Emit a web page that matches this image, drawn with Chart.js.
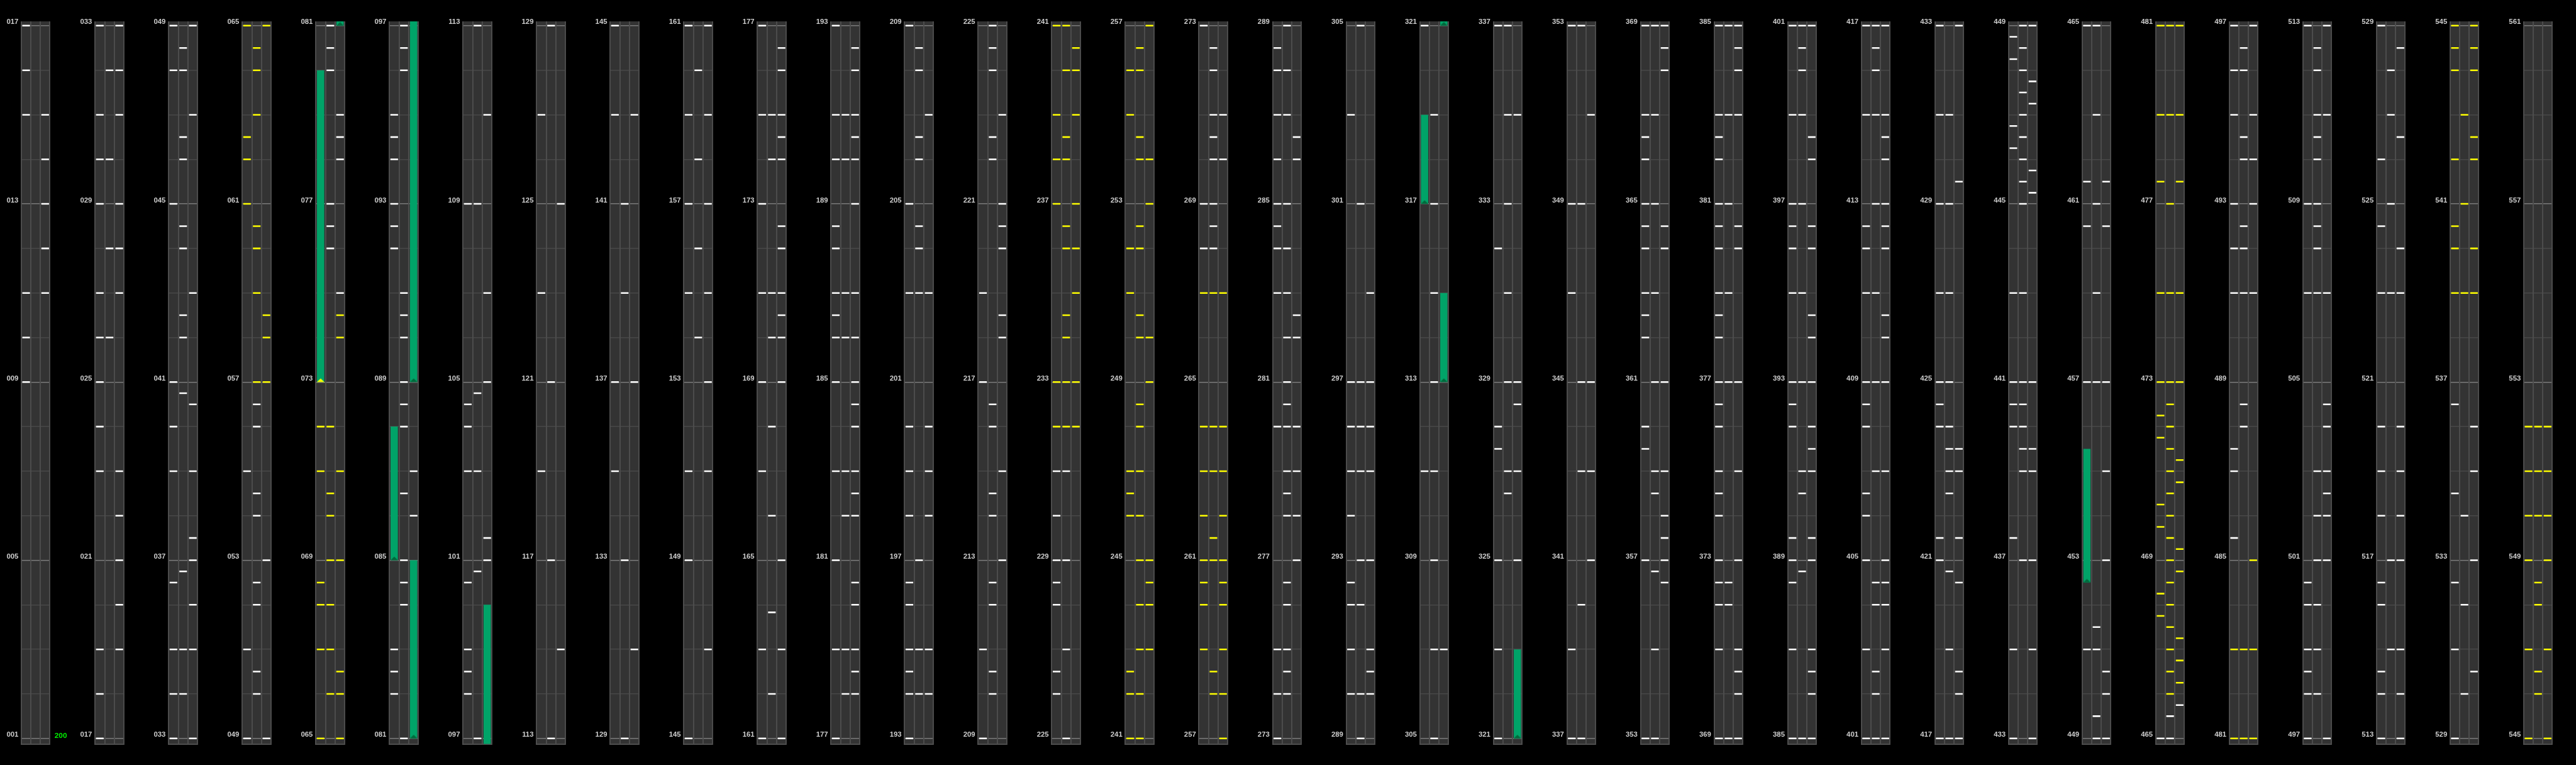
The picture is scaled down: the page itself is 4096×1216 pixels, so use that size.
<!DOCTYPE html>
<html>
<head>
<meta charset="utf-8">
<script src="https://cdn.jsdelivr.net/npm/chart.js@4.4.0/dist/chart.umd.min.js"></script>
<style>
  html, body { margin: 0; padding: 0; background: #000; overflow: hidden; }
  #wrap { position: relative; width: 4096px; height: 1216px; background: #000; }
  #wrap canvas { position: absolute; top: 0; }
  .bpm { position: absolute; font-family: "Liberation Sans", Arial, sans-serif; font-weight: bold; color: #00ee00; white-space: nowrap; }
</style>
</head>
<body>
<div id="wrap"></div>
<script>
// everything is laid out in reference pixels and scaled down to the window
const S = 4096 / 4340;

const COLUMNS = 35;
const PER_COLUMN = 16;            // measures shown in one strip
const LANES = ['L1', 'L2', 'L3'];
const bpmText = '200';

// tap notes, by lane, as measure positions
const whiteL1 = [17,16,15,11,10,9, 33,31,30,29,27,26,25,24,23,19,18, 49,48,45,41,40,39,36.5,35,34, 55,51,
  95,94.5,94,93,92.5,92,83,82.5,82, 109,104.5,104,103,100.5,99,98.5,98, 127,123,119, 145,143,137,135,
  161,159,157,155,151,149, 177,175,173,171,169,167,163, 193,191,190,188.5,188,187,186.5,186,185,183,181,179,
  209,205,203,200,199,198,196.5,196,195,194.5,194, 219,217,211, 231,230,229,228.5,228,226.5,226, 273,269,268,
  288.5,288,287,286,285,284.5,284,283,280,275,274, 303,297,296,295,294,292.5,292,291,290, 321,311,
  337,332,328,327.5,325,323, 353,349,347,339, 369,367,366.5,366,365,364.5,364,363,362.5,362,360,359.5,357,
  385,383,382.5,382,381,380.5,380,379,378.5,378,377,376.5,376,375,374.5,374,373,372.5,372,371,
  401,399,397,396.5,396,395,393,392.5,392,389.5,389,388.5,387, 417,415,412.5,412,411,409,408.5,408,406.5,406,405,403,
  433,431,429,427,425,424.5,424,421.5,421, 448.75,448.25,446.75,446.25,443,441,440.5,440,437.5,435,
  465,461.5,460.5,457,451, 497,496,495,493,492,491,487.5,487,485.5, 513,509,507,500.5,500,499,498.5,498,
  529,526,524.5,523,520,519,518,516.5,516,514.5,514, 536.5,534.5,532.5,531];
const whiteL2 = [32,30,28,26, 48.5,48,46.5,46,44.5,44,42.5,42,40.75,36.75,35,34, 56.5,56,54.5,54,52.5,52,50.5,50,
  81,80.5,80,77,76.5,76, 97,96.5,96,91,90.5,90,89,88.5,88,86.5,85,84.5,84, 113,109,104.75,103,100.75,
  129,121,117, 141,139,133, 160,158,156,154, 175,174,171,170,168,166,163.83,162, 191,190,187,186,183,182,179,178,
  208.5,208,206.5,206,204.5,204,203,197,195,194, 225,224.5,224,222.5,222,216.5,216,214.5,214,212.5,212,210.5,210,
  231,229,227, 272.5,272,271,270.5,270,269,268.5,268,
  289,288,287,285,284,283,282,281,280.5,280,279,278.5,278,276.5,276,275,274.5,274, 305,301,297,296,295,293,292,290,
  319,317,315,313,311,309,307, 337,335,333,331,329,327,326.5, 353,349,345,343,340, 369,367,365,363,361,359,358.5,356.75,355,
  385,383,381,379,377,372.5,372, 401,400.5,400,399,397,395,393,391,390.5,388.75, 417,416.5,416,415,413,411,409,407,404.5,404,402.5,402,
  431,429,427,425,424,423.5,423,422.5,420.75,419, 449,448.5,448,447.5,447,446.5,446,445.5,445,443,441,440.5,440,439.5,439,437,
  465,463,461,459,457,451.5,451,449.5, 465.5, 496.5,496,494.5,494,492.5,492,491,488.5,488,
  512.5,512,511,510.5,510,509,508.5,508,507,503,502,501,500,499,498, 528,527,525,523,517,515, 534,532,530];
const whiteL3 = [15,14,13,12,11, 33,32,31,29,28,27,23,22,21,20,19, 49,47,43,40.5,39,37.5,37,36,35, 53, 79,78.5,78,75, 87,86,
  111,107,105,101.5,101, 125,115, 143,137,131, 161,159,157,155,153,151,147,
  176.5,176,175,174.5,174,172.5,172,171,170.5,170,169,165,163,
  192.5,192,191,190.5,190,189,187,186,185,184.5,184,183,182.5,182,180.5,180,179,178.5,178,
  207,203,200,199,198,195,194, 223,221,220.5,220,218.5,218,215,213, 271,270, 286.5,286,282.5,282,280,279,278,277,
  299,297,296,295,293,291,290.5,290, 307, 335,329,328.5,327,325, 351,345,343,341,
  369,368.5,368,364.5,364,361,359,358,357.5,357,356.5, 385,384.5,384,383,380.5,380,377,375,373,371,370.5,370,
  401,398.5,398,396.5,396,394.5,394,393,392,391.5,391,389.5,389,387,386.5,386,
  417,415,414.5,414,413,412.5,412,410.5,410,409,407,405,404.5,404,403, 433,429.5,423.5,423,421.5,420.5,418.5,418,
  449,447.75,447.25,445.75,445.25,441,439.5,439,437,435, 461.5,460.5,457,455,453,450.5,450, 465.75,
  497,495,494,493,491, 513,511,507,504.5,504,503,502.5,502,501, 528.5,526.5,524,523,520,519,518,517,515,514,
  536,535,533,530.5];

const yellowL1 = [65,62.5,62,61, 72,71,68.5,68,67, 241,239,238,237,233,232, 256,255,252,251,247,246.5,246,242.5,242,
  267,264,263,262,261,260.5,260,259, 481,479,477.5,475,473,472.25,471.75,470.25,469.75,468.25,467.75, 483,
  545,544.5,544,542,540.5,540,539, 552,551,550,549,547];
const yellowL2 = [64.5,64,63,60.5,60,59,57, 72,70.5,70,69,68,67,66, 241,240,238.5,238,236.5,236,234.5,234,233,232,
  256.5,256,254.5,254,252.5,252,250.5,250,248.5,248,247,246,245,244,243,242, 267,264,263,261.5,261,258.5,258,
  481,479,477,475,473,472.5,472,471.5,471,470.5,470,469.5,469,468.5,468,467.5,467,466.5,466, 483,
  543,541,539, 552,551,550,548.5,548,546.5,546];
const yellowL3 = [65,58.5,58,57, 74.5,74,71,69,66.5,66, 240.5,240,239,237,236,235,233,232, 257,254,253,250,249,245,244.5,244,243,
  267,264,263,262,261,260.5,260,259,258, 481,479,477.5,475,473,471.25,470.75,469.25,468.75,467.25,466.75,466.25, 485,483,
  545,544.5,544,542.5,542,540,539, 552,551,550,549,547];

// long notes
const holdLane  = [0, 2, 0, 2, 2, 0, 2, 0];
const holdStart = [73, 81, 85, 89, 313, 317, 321, 452.5];
const holdEnd   = [80, 85, 88, 100, 315, 319, 323, 455.5];
const holdYellow = [true, false, false, false, false, false, false, false];

const whiteLanes = [whiteL1, whiteL2, whiteL3];
const yellowLanes = [yellowL1, yellowL2, yellowL3];

function makeHead(color) {
  const c = document.createElement('canvas');
  const w = Math.round(13 * S), h = Math.round(14 * S);
  c.width = w;
  c.height = h;
  const g = c.getContext('2d');
  g.fillStyle = color;
  g.beginPath();
  g.moveTo(0, h / 2);
  g.lineTo(w, h / 2);
  g.lineTo(w / 2, h / 2 - 6 * S);
  g.closePath();
  g.fill();
  return c;
}
const greenHead = makeHead('#00693c');
const yellowHead = makeHead('#ffff00');

const laneBg = {
  id: 'laneBg',
  beforeDraw(chart) {
    const { ctx, chartArea: a } = chart;
    ctx.save();
    ctx.fillStyle = '#333333';
    ctx.fillRect(a.left, a.top, a.width, a.height);
    ctx.restore();
  }
};

const wrap = document.getElementById('wrap');

function buildColumn(c) {
  const first = 1 + c * PER_COLUMN;
  const last = first + PER_COLUMN;
  const yMin = first - 0.124;
  const yMax = last + 0.097;

  const left = Math.floor(124 * c * S);
  const axisW = (36 + 124 * c) * S - left;
  const areaRight = (89 + 124 * c) * S - left;
  const width = Math.ceil(areaRight) + 4;

  const canvas = document.createElement('canvas');
  canvas.width = width;
  canvas.height = 1216;
  canvas.style.left = left + 'px';
  wrap.appendChild(canvas);

  const inCol = m => m >= first && m <= last;
  const tapPoints = lists => {
    const out = [];
    lists.forEach((list, lane) => {
      list.filter(inCol).forEach(m => out.push({ x: LANES[lane], y: m }));
    });
    return out;
  };

  const bars = [], greenHeads = [], yellowHeads = [];
  holdLane.forEach((lane, i) => {
    if (holdEnd[i] < yMin || holdStart[i] > yMax) return;
    bars.push({ x: LANES[lane], y: [holdStart[i], holdEnd[i]] });
    if (holdStart[i] >= yMin && holdStart[i] <= yMax) {
      (holdYellow[i] ? yellowHeads : greenHeads).push({ x: LANES[lane], y: holdStart[i] });
    }
  });

  const noteStyle = color => ({
    type: 'scatter',
    pointStyle: 'line',
    radius: 6.4 * S,
    borderWidth: 2.7 * S,
    borderColor: color,
    backgroundColor: color,
    clip: 0,
    order: 1
  });

  new Chart(canvas, {
    type: 'bar',
    data: {
      labels: LANES,
      datasets: [
        Object.assign({ data: tapPoints(whiteLanes) }, noteStyle('#ffffff')),
        Object.assign({ data: tapPoints(yellowLanes) }, noteStyle('#ffff00')),
        { type: 'scatter', data: greenHeads, pointStyle: greenHead, clip: 0, order: 2 },
        { type: 'scatter', data: yellowHeads, pointStyle: yellowHead, clip: 0, order: 2 },
        {
          type: 'bar',
          data: bars,
          backgroundColor: '#00a368',
          borderWidth: 0,
          barPercentage: 0.75,
          categoryPercentage: 1,
          clip: 0,
          order: 3
        }
      ]
    },
    options: {
      responsive: false,
      devicePixelRatio: 1,
      animation: false,
      events: [],
      layout: {
        padding: { top: 36 * S, bottom: 1216 - 1253 * S, left: 0, right: width - areaRight }
      },
      plugins: { legend: { display: false }, tooltip: { enabled: false } },
      scales: {
        x: {
          type: 'category',
          offset: true,
          grid: { offset: true, color: '#4e4e4e', lineWidth: 2 * S, drawTicks: false, z: -1 },
          border: { display: true, color: '#4e4e4e', width: 2 * S },
          ticks: { display: false },
          afterFit(scale) {
            scale.height = 0;
            scale.paddingLeft = 0;
            scale.paddingRight = 0;
          }
        },
        y: {
          type: 'linear',
          min: yMin,
          max: yMax,
          grid: {
            color: ctx => ((ctx.tick.value - 1) % 4 === 0 ? '#7a7a7a' : '#484848'),
            lineWidth: 1.6 * S,
            drawTicks: false,
            z: -2
          },
          border: { display: false },
          ticks: {
            autoSkip: false,
            padding: 5 * S,
            labelOffset: -5.8 * S,
            color: '#cccccc',
            font: { family: '"Liberation Sans", Arial, sans-serif', size: 12 * S, weight: 'bold' },
            callback: v => ((v - 1) % 4 === 0 ? String(v).padStart(3, '0') : '')
          },
          afterBuildTicks(scale) {
            const ticks = [];
            for (let m = first; m <= last; m++) ticks.push({ value: m });
            scale.ticks = ticks;
          },
          afterFit(scale) {
            scale.width = axisW;
            scale.paddingTop = 0;
            scale.paddingBottom = 0;
          }
        }
      }
    },
    plugins: [laneBg]
  });
}

for (let c = 0; c < COLUMNS; c++) buildColumn(c);

// tempo marker next to the first strip
const bpm = document.createElement('div');
bpm.className = 'bpm';
bpm.textContent = bpmText;
bpm.style.fontSize = (12.5 * S) + 'px';
bpm.style.lineHeight = (14 * S) + 'px';
bpm.style.left = (92 * S) + 'px';
bpm.style.top = ((1238 - 7) * S) + 'px';
wrap.appendChild(bpm);
</script>
</body>
</html>
